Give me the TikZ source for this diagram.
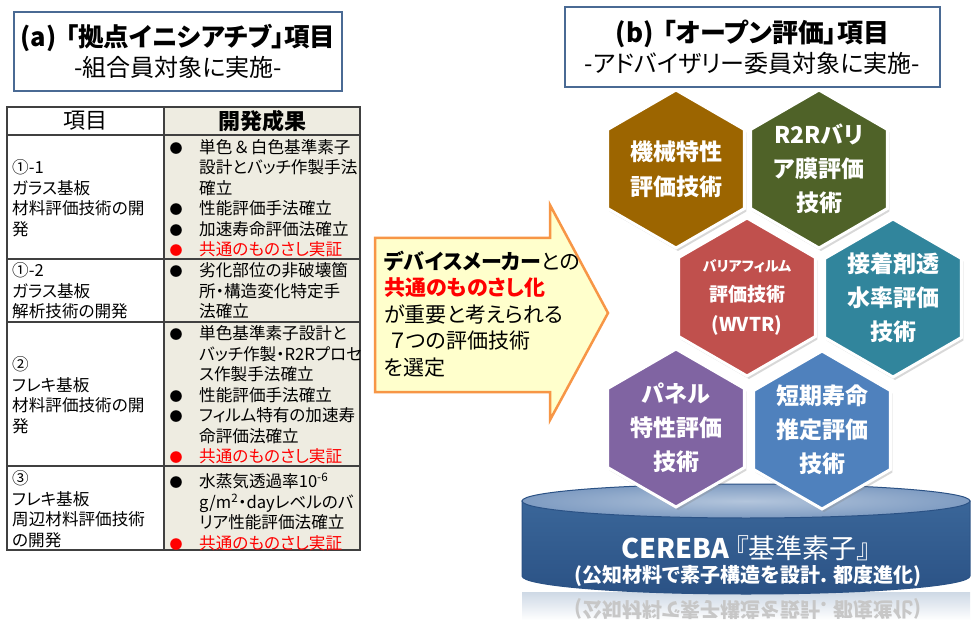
\documentclass[tikz,border=0pt]{standalone}
\usepackage{fontspec}
\setmainfont{Noto Sans CJK JP}[RawFeature=+palt]
\usetikzlibrary{shapes.geometric,shadows}

\definecolor{boxblue}{HTML}{4A6A94}
\definecolor{tancell}{HTML}{EEECE1}
\definecolor{arrowfill}{HTML}{FFFFCC}
\definecolor{arroworange}{HTML}{F79646}
\definecolor{hexbrown}{HTML}{9C6500}
\definecolor{hexgreen}{HTML}{4F6228}
\definecolor{hexred}{HTML}{C0504D}
\definecolor{hexteal}{HTML}{31859C}
\definecolor{hexpurple}{HTML}{8064A2}
\definecolor{hexblue}{HTML}{4F81BD}
\definecolor{diskside}{HTML}{3A6699}
\definecolor{disksidedark}{HTML}{2B5285}
\definecolor{disktop}{HTML}{7F9CC2}
\definecolor{disktopin}{HTML}{B3C5DC}

\newcommand{\blt}{\makebox[31pt][l]{\hspace{1.5pt}{\fontsize{13}{13}\selectfont ●}}}
\newcommand{\rblt}{\makebox[31pt][l]{\hspace{1.5pt}{\fontsize{13}{13}\selectfont\textcolor{red}{●}}}}
\newcommand{\ingap}{\hspace*{31pt}}

\begin{document}
\begin{tikzpicture}[x=1pt,y=-1pt,
        titlebox/.style={draw=boxblue, line width=1.6pt, align=center, font=\fontsize{24}{30}\selectfont},
        tablerule/.style={draw=black!75, line width=1.2pt},
        celltext/.style={align=left, inner sep=0pt, anchor=west, font=\fontsize{16.6}{20.5}\selectfont},
        hexcell/.style={regular polygon, regular polygon sides=6, regular polygon rotate=30, minimum size=158pt, inner sep=0pt, draw=white, line width=3pt, drop shadow={opacity=0.3, shadow xshift=2pt, shadow yshift=-3pt}},
        hextext/.style={align=center, text=white, font=\bfseries\fontsize{23}{34}\selectfont}]
        \fill[white] (0,0) rectangle (971,620);
        \useasboundingbox (0,0) rectangle (971,620);

        \node[titlebox, minimum width=328pt, minimum height=79pt] (titleA) at (178,51.5) {{\fontsize{25.5}{30}\selectfont\bfseries (a)\hspace{0.35em}「拠点イニシアチブ」項目}\\-組合員対象に実施-};
        \node[titlebox, minimum width=375pt, minimum height=80pt] (titleB) at (752.5,47) {{\fontsize{26}{30}\selectfont\bfseries (b)\hspace{0.35em}「オープン評価」項目}\\-アドバイザリー委員対象に実施-};

        % table
        \fill[tancell] (164,107) rectangle (360,550);
        \draw[tablerule] (7,107) rectangle (360,550);
        \draw[tablerule] (164,107) -- (164,550);
        \foreach \yy in {135,259,322,466}
                \draw[tablerule] (7,\yy) -- (360,\yy);
        \node[font=\fontsize{22}{26}\selectfont] (headItem) at (85.5,121) {項目};
        \node[font=\bfseries\fontsize{22}{26}\selectfont] (headResult) at (262,121) {開発成果};

        \node[celltext] (itemA) at (12,198) {①-1\\ガラス基板\\材料評価技術の開\\発};
        \node[celltext] (itemB) at (12,291) {①-2\\ガラス基板\\解析技術の開発};
        \node[celltext] (itemC) at (12,395) {②\\フレキ基板\\材料評価技術の開\\発};
        \node[celltext] (itemD) at (12,509) {③\\フレキ基板\\周辺材料評価技術\\の開発};

        \node[celltext] (resultA) at (168,198) {\blt 単色\hspace{0.15em}＆\hspace{0.15em}白色基準素子\\\ingap 設計とバッチ作製手法\\\ingap 確立\\\blt 性能評価手法確立\\\blt 加速寿命評価法確立\\\rblt\textcolor{red}{共通のものさし実証}};
        \node[celltext] (resultB) at (168,291) {\blt 劣化部位の非破壊箇\\\ingap 所・構造変化特定手\\\ingap 法確立};
        \node[celltext] (resultC) at (168,395) {\blt 単色基準素子設計と\\\ingap バッチ作製・R2Rプロセ\\\ingap ス作製手法確立\\\blt 性能評価手法確立\\\blt フィルム特有の加速寿\\\ingap 命評価法確立\\\rblt\textcolor{red}{共通のものさし実証}};
        \node[celltext] (resultD) at (168,512) {\blt 水蒸気透過率10\textsuperscript{-6}\\\ingap g/m\textsuperscript{2}・dayレベルのバ\\\ingap リア性能評価法確立\\\rblt\textcolor{red}{共通のものさし実証}};

        % arrow
        \draw[fill=arrowfill, draw=arroworange, line width=2.5pt, line join=miter]
                (375,238) -- (550,238) -- (550,205) -- (608,313) -- (550,420) -- (550,392) -- (375,392) -- cycle;
        \node[align=left, anchor=west, inner sep=0pt, font=\fontsize{21}{26.5}\selectfont] (arrowMsg) at (384,314)
                {\textbf{デバイスメーカー}との\\\textcolor{red}{\textbf{共通のものさし化}}\\が重要と考えられる\\\hspace{0.3em}７つの評価技術\\を選定};

        % base disk
        \shade[top color=diskside!25, bottom color=white] (522,592) rectangle (970,620);
        \node[text=black!22, font=\bfseries\fontsize{20}{24}\selectfont] (reflect) at (748,609) {\scalebox{1}[-1]{(公知材料で素子構造を設計. 都度進化)}};
        \shade[top color=diskside, bottom color=disksidedark, draw=disksidedark, line width=1pt]
                (522,501) -- (522,576) arc[start angle=180, end angle=0, x radius=224, y radius=18] -- (970,501) -- cycle;
        \shade[inner color=disktopin, outer color=disktop, draw=disksidedark, line width=1pt] (746,501) ellipse [x radius=224, y radius=17];
        \node[text=white, font=\fontsize{27}{32}\selectfont] (cereba) at (746,548) {\textbf{CEREBA}\hspace{0.2em}『基準素子』};
        \node[text=white, font=\bfseries\fontsize{20}{24}\selectfont] (cerebaSub) at (748,576) {(公知材料で素子構造を設計. 都度進化)};

        % hexagons
        \node[hexcell, fill=hexbrown] (mech) at (676,169) {};
        \node[hexcell, fill=hexgreen] (rtor) at (819,169) {};
        \node[hexcell, fill=hexred] (wvtr) at (747,297) {};
        \node[hexcell, fill=hexteal] (adhes) at (893,298) {};
        \node[hexcell, fill=hexpurple] (panel) at (676,428) {};
        \node[hexcell, fill=hexblue] (life) at (822,430) {};
        \node[hextext, font=\bfseries\fontsize{23}{35}\selectfont] (mechT) at (mech) {機械特性\\評価技術};
        \node[hextext] (rtorT) at (rtor) {R2Rバリ\\ア膜評価\\技術};
        \node[hextext, font=\bfseries\fontsize{19}{30}\selectfont] (wvtrT) at (wvtr) {{\fontsize{14}{30}\selectfont バリアフィルム}\\評価技術\\(WVTR)};
        \node[hextext] (adhesT) at (adhes) {接着剤透\\水率評価\\技術};
        \node[hextext] (panelT) at (panel) {パネル\\特性評価\\技術};
        \node[hextext] (lifeT) at (life) {短期寿命\\推定評価\\技術};
\end{tikzpicture}
\end{document}
